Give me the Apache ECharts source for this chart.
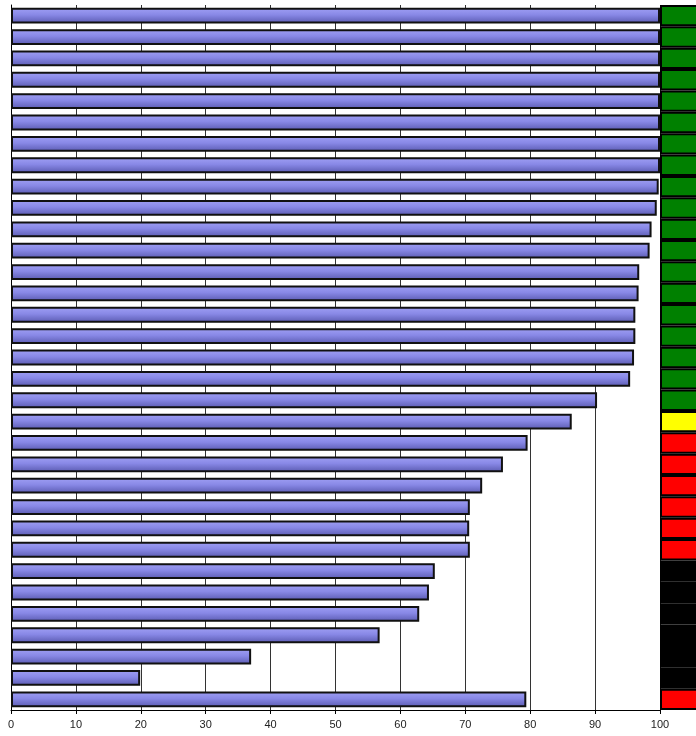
<!DOCTYPE html>
<html>
<head>
<meta charset="utf-8">
<script src="https://cdn.jsdelivr.net/npm/echarts@6/dist/echarts.min.js"></script>
<style>
  html, body { margin: 0; padding: 0; background: #fff; }
  #main { width: 696px; height: 736px; }
</style>
</head>
<body>
<div id="main"></div>
<script>
let rows = []
for (let i = 1; i <= 33; i++) rows.push('R' + i)

let scores = [
  100, 100, 100, 100, 100, 100, 100, 100, 99.8, 99.5,
  98.7, 98.4, 96.8, 96.7, 96.2, 96.2, 96.0, 95.4, 90.3, 86.4,
  79.6, 75.8, 72.6, 70.7, 70.6, 70.7, 65.3, 64.4, 62.9, 56.8,
  37.0, 19.9, 79.4
]

// status colour of each row (right-hand strip)
let status = [
  'green', 'green', 'green', 'green', 'green', 'green', 'green', 'green', 'green', 'green',
  'green', 'green', 'green', 'green', 'green', 'green', 'green', 'green', 'green', 'yellow',
  'red', 'red', 'red', 'red', 'red', 'red', 'black', 'black', 'black', 'black',
  'black', 'black', 'red'
]

let xTicks = [0, 10, 20, 30, 40, 50, 60, 70, 80, 90, 100]

let statusColor = {
  green: '#008000',
  yellow: '#ffff00',
  red: '#ff0000',
  black: '#000000'
}

let chart = echarts.init(document.getElementById('main'), null, { renderer: 'canvas' })

let option = {
  animation: false,
  backgroundColor: '#ffffff',
  grid: [
    { left: 11, right: 36, top: 5, bottom: 26, show: false },
    { left: 660, right: 0, top: 5, bottom: 26, show: false }
  ],
  xAxis: [
    {
      gridIndex: 0,
      type: 'value',
      min: xTicks[0],
      max: xTicks[xTicks.length - 1],
      interval: 10,
      axisLine: { show: true, lineStyle: { color: '#000', width: 1 } },
      axisTick: { show: true, length: 4, lineStyle: { color: '#000' } },
      axisLabel: {
        color: '#222',
        fontSize: 11,
        fontFamily: 'Liberation Sans',
        margin: 9,
        formatter: v => String(v)
      },
      splitLine: { show: true, lineStyle: { color: '#333', width: 1 } }
    },
    {
      gridIndex: 1,
      type: 'value',
      min: 0,
      max: 1,
      show: false
    }
  ],
  yAxis: [
    {
      gridIndex: 0,
      type: 'category',
      inverse: true,
      data: rows,
      axisLine: { show: true, lineStyle: { color: '#000', width: 1 } },
      axisTick: { show: false },
      axisLabel: { show: false },
      splitLine: { show: false }
    },
    {
      gridIndex: 1,
      type: 'category',
      inverse: true,
      data: rows,
      show: false
    }
  ],
  series: [
    {
      type: 'bar',
      xAxisIndex: 0,
      yAxisIndex: 0,
      barCategoryGap: '26%',
      data: scores,
      itemStyle: {
        color: new echarts.graphic.LinearGradient(0, 0, 0, 1, [
          { offset: 0, color: '#a0a0f4' },
          { offset: 0.45, color: '#8888e6' },
          { offset: 1, color: '#5a5ab0' }
        ]),
        borderColor: '#111',
        borderWidth: 2
      }
    },
    {
      // strip runs past the right edge, so its right border is cut off
      type: 'bar',
      xAxisIndex: 1,
      yAxisIndex: 1,
      barCategoryGap: 0,
      clip: false,
      data: status.map(s => ({
        value: 1.5,
        itemStyle: { color: statusColor[s] }
      })),
      itemStyle: { borderColor: '#000', borderWidth: 2 }
    }
  ]
}

chart.setOption(option)
</script>
</body>
</html>
